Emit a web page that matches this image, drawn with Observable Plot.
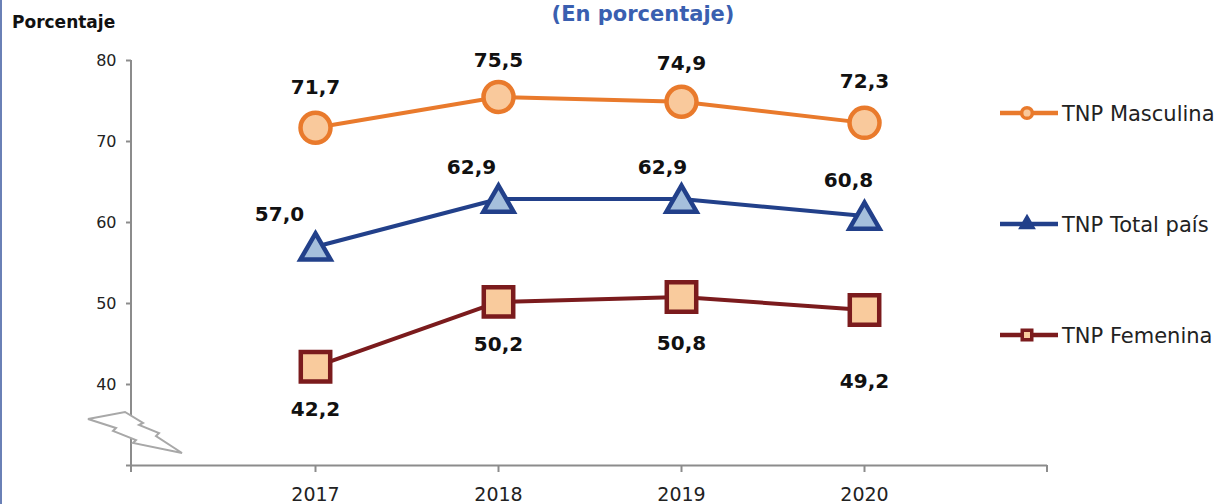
<!DOCTYPE html>
<html>
<head>
<meta charset="utf-8">
<script src="https://cdn.jsdelivr.net/npm/d3@7"></script>
<script src="https://cdn.jsdelivr.net/npm/@observablehq/plot@0.6"></script>
<style>
  body { margin: 0; background: #fff; }
  #wrap { position: relative; width: 1218px; height: 504px; overflow: hidden; background: #fff;
          font-family: "DejaVu Sans", Verdana, sans-serif; }
  #wrap > svg { position: absolute; left: 0; top: 0; }
  #border { position: absolute; left: 0; top: 0; width: 2px; height: 504px; background: #6a80b6; }
</style>
</head>
<body>
<div id="wrap"><div id="border"></div></div>
<script>
// ---- data ----
const years = ["2017", "2018", "2019", "2020"];
const seriesNames = ["TNP Masculina", "TNP Total país", "TNP Femenina"];
const masculina = [71.7, 75.5, 74.9, 72.3];
const totalPais = [57.0, 62.9, 62.9, 60.8];
const femenina = [42.2, 50.2, 50.8, 49.2];
const yTicks = [30, 40, 50, 60, 70, 80];
const titleText = "(En porcentaje)";
const yAxisTitle = "Porcentaje";

// ---- styles ----
const styles = {
  "TNP Masculina": { line: "#e97a2c", fill: "#f9c99c", symbol: "circle", r: 15, dy: 0 },
  "TNP Total país": { line: "#22408a", fill: "#a5bfdc", symbol: "triangle", r: 11.2, dy: 4 },
  "TNP Femenina": { line: "#7b1b1d", fill: "#f9cb9d", symbol: "square", r: 16.6, dy: 0 }
};
// label offsets (dx, dy) per series / year
const labelOffsets = {
  "TNP Masculina": [[0, -40], [0, -36], [0, -38], [0, -41]],
  "TNP Total país": [[-36, -32], [-27, -31], [-19, -31], [-16, -35]],
  "TNP Femenina": [[0, 43], [0, 43], [0, 47], [0, 72]]
};

const seriesValues = [masculina, totalPais, femenina];
const rows = [];
seriesNames.forEach((s, si) => {
  years.forEach((yr, i) => rows.push({ series: s, year: yr, value: seriesValues[si][i], i }));
});
const fmt = v => d3.format(".1f")(v).replace(".", ",");

const marks = [];
marks.push(Plot.ruleY([30], { stroke: "#8c8c8c", strokeWidth: 2 }));
marks.push(Plot.axisY({
  ticks: yTicks, tickSize: 5, tickPadding: 10, fontSize: 16, fill: "#222",
  stroke: "#8c8c8c", strokeWidth: 2, tickFormat: d => d === 30 ? "" : String(d), label: null
}));
marks.push(Plot.axisX({
  tickSize: 7, tickPadding: 15, fontSize: 19, fill: "#222",
  stroke: "#8c8c8c", strokeWidth: 2, label: null
}));
seriesNames.forEach(s => {
  const st = styles[s];
  const data = rows.filter(d => d.series === s);
  marks.push(Plot.line(data, { x: "year", y: "value", stroke: st.line, strokeWidth: 4 }));
});
seriesNames.forEach(s => {
  const st = styles[s];
  const data = rows.filter(d => d.series === s);
  marks.push(Plot.dot(data, {
    x: "year", y: "value", symbol: st.symbol, r: st.r, dy: st.dy,
    fill: st.fill, stroke: st.line, strokeWidth: 4.5, strokeLinejoin: "miter"
  }));
});
rows.forEach(d => {
  const [dx, dy] = labelOffsets[d.series][d.i];
  marks.push(Plot.text([d], {
    x: "year", y: "value", text: r => fmt(r.value), dx, dy,
    fontSize: 20, fontWeight: "bold", fill: "#111"
  }));
});

const plot = Plot.plot({
  width: 1218, height: 504,
  marginLeft: 131, marginRight: 171, marginTop: 60, marginBottom: 39,
  x: { type: "point", domain: years, padding: 1 },
  y: { domain: [30, 80] },
  style: { fontFamily: "DejaVu Sans, Verdana, sans-serif", background: "transparent", overflow: "visible" },
  marks
});
document.getElementById("wrap").appendChild(plot);

// ---- axis decorations derived from scales ----
const svg = d3.select(plot);
const [x0, x1] = plot.scale("x").range;
const yr = plot.scale("y").range;
const yb = Math.max(...yr), yt = Math.min(...yr);
const deco = svg.append("g").attr("stroke", "#8c8c8c").attr("stroke-width", 2);
deco.append("line").attr("x1", x0).attr("x2", x0).attr("y1", yt).attr("y2", yb + 7);
deco.append("line").attr("x1", x1).attr("x2", x1).attr("y1", yb).attr("y2", yb + 7);
// axis break (lightning) symbol
const bolt = [[-43, -46], [-6, -53], [12, -42], [8, -40], [28, -32], [25, -29], [51, -12],
              [2, -22], [5, -25], [-18, -34], [-15, -37]];
svg.append("path")
  .attr("d", "M" + bolt.map(p => [x0 + p[0], yb + p[1]].join(",")).join("L") + "Z")
  .attr("fill", "#fff").attr("stroke", "#a8a8a8").attr("stroke-width", 2).attr("stroke-linejoin", "miter");

// ---- overlay: titles and legend ----
const ov = d3.select("#wrap").append("svg").attr("width", 1218).attr("height", 504)
  .style("font-family", "DejaVu Sans, Verdana, sans-serif");
ov.append("text").attr("x", 643).attr("y", 21).attr("text-anchor", "middle")
  .attr("font-size", 21).attr("font-weight", "bold").attr("fill", "#3a5fb0").text(titleText);
ov.append("text").attr("x", 12).attr("y", 28)
  .attr("font-size", 17).attr("font-weight", "bold").attr("fill", "#111").text(yAxisTitle);

const legendY = [113, 224, 335];
seriesNames.forEach((s, i) => {
  const st = styles[s];
  const g = ov.append("g").attr("transform", `translate(0,${legendY[i]})`);
  g.append("line").attr("x1", 1000).attr("x2", 1058).attr("y1", 0).attr("y2", 0)
    .attr("stroke", st.line).attr("stroke-width", 4.5);
  const sym = st.symbol === "circle" ? d3.symbolCircle : st.symbol === "triangle" ? d3.symbolTriangle : d3.symbolSquare;
  g.append("path").attr("d", d3.symbol(sym, st.symbol === "triangle" ? 60 : 90)())
    .attr("transform", "translate(1027,0)")
    .attr("fill", st.symbol === "triangle" ? st.line : st.fill).attr("stroke", st.line).attr("stroke-width", 3.5);
  g.append("text").attr("x", 1062).attr("y", 0).attr("dy", "0.36em")
    .attr("font-size", 21).attr("fill", "#222").text(s);
});
</script>
</body>
</html>
